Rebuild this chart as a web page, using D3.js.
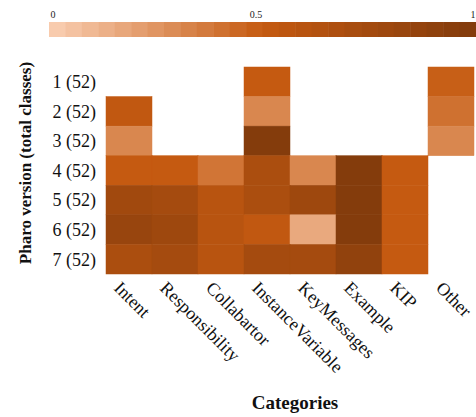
<!DOCTYPE html>
<html>
<head>
<meta charset="utf-8">
<script src="https://cdn.jsdelivr.net/npm/d3@7"></script>
<style>
  html, body { margin: 0; padding: 0; background: #fff; }
  svg { display: block; font-family: "Liberation Serif", "Times New Roman", serif; }
</style>
</head>
<body>
<svg id="chart" width="476" height="417"></svg>
<script>
const categories = ["Intent", "Responsibility", "Collabartor", "InstanceVariable", "KeyMessages", "Example", "KIP", "Other"];
const versions = ["1 (52)", "2 (52)", "3 (52)", "4 (52)", "5 (52)", "6 (52)", "7 (52)"];
// values per version (rows), per category (columns); null = no data
const row1 = [null, null, null, 0.50, null, null, null, 0.48];
const row2 = [0.53, null, null, 0.30, null, null, null, 0.40];
const row3 = [0.30, null, null, 1.00, null, null, null, 0.30];
const row4 = [0.50, 0.50, 0.38, 0.70, 0.30, 1.00, 0.50, null];
const row5 = [0.78, 0.75, 0.60, 0.70, 0.80, 1.00, 0.50, null];
const row6 = [0.85, 0.80, 0.60, 0.53, 0.15, 1.00, 0.50, null];
const row7 = [0.70, 0.75, 0.60, 0.75, 0.75, 0.90, 0.50, null];
const values = [row1, row2, row3, row4, row5, row6, row7];
const legendTicks = [0, 0.5, 1];
const legendSteps = 26;

const svg = d3.select("#chart");
const color = d3.scaleLinear().domain([0, 0.5, 1]).range(["#f8cbad", "#c55a11", "#843c0c"]);

const x = d3.scaleBand().domain(categories).range([106, 474]).padding(0);
const y = d3.scaleBand().domain(versions).range([67, 274]).padding(0);

const cells = [];
values.forEach((row, i) => row.forEach((v, j) => {
  if (v !== null) cells.push({ v: versions[i], c: categories[j], value: v });
}));

svg.append("g").selectAll("rect").data(cells).join("rect")
  .attr("x", d => x(d.c))
  .attr("y", d => y(d.v))
  .attr("width", x.bandwidth())
  .attr("height", y.bandwidth())
  .attr("fill", d => color(d.value))
  .attr("stroke", d => color(d.value))
  .attr("stroke-width", 0.5);

// Y labels
svg.append("g").selectAll("text").data(versions).join("text")
  .attr("x", 96)
  .attr("y", d => y(d) + y.bandwidth() / 2)
  .attr("dy", "0.35em")
  .attr("text-anchor", "end")
  .attr("font-size", 18)
  .attr("fill", "#111")
  .text(d => d);

// X labels rotated
svg.append("g").selectAll("text").data(categories).join("text")
  .attr("text-anchor", "start")
  .attr("font-size", 18)
  .attr("fill", "#111")
  .attr("transform", d => `translate(${x(d) + x.bandwidth() / 2 - 16},289) rotate(45)`)
  .text(d => d);

// Axis titles
svg.append("text")
  .attr("transform", "translate(31,163) rotate(-90)")
  .attr("text-anchor", "middle")
  .attr("font-size", 17)
  .attr("font-weight", "bold")
  .attr("fill", "#111")
  .text("Pharo version (total classes)");

svg.append("text")
  .attr("x", 295)
  .attr("y", 409)
  .attr("text-anchor", "middle")
  .attr("font-size", 19)
  .attr("font-weight", "bold")
  .attr("fill", "#111")
  .text("Categories");

// Legend
const lx = d3.scaleLinear().domain([0, legendSteps]).range([49, 476]);
const steps = d3.range(legendSteps);
svg.append("g").selectAll("rect").data(steps).join("rect")
  .attr("x", i => lx(i))
  .attr("y", 22)
  .attr("width", i => lx(i + 1) - lx(i) + 0.5)
  .attr("height", 15)
  .attr("fill", i => color(i / (legendSteps - 1)));

const ltick = d3.scaleLinear().domain([0, 0.5, 1]).range([53, 256, 473]);
svg.append("g").selectAll("text").data(legendTicks).join("text")
  .attr("x", d => ltick(d))
  .attr("y", 18)
  .attr("text-anchor", "middle")
  .attr("font-size", 10)
  .attr("fill", "#222")
  .text(d => d);
</script>
</body>
</html>
